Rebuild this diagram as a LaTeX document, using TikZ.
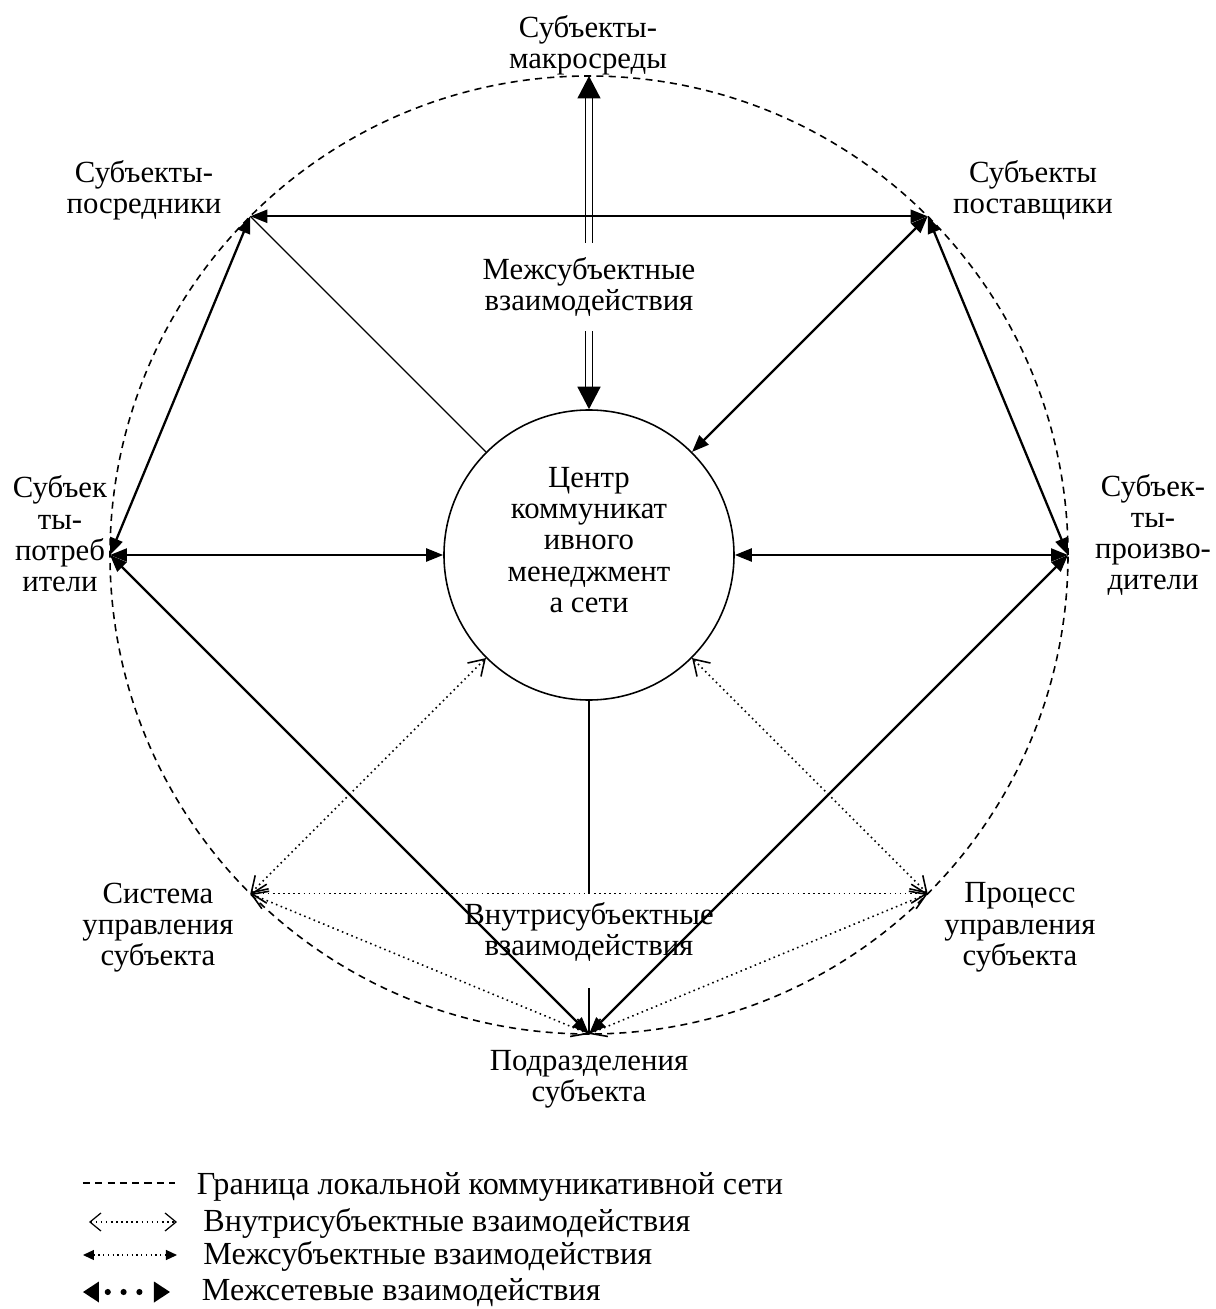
\documentclass[tikz,border=0pt]{standalone}
\usepackage{fontspec}
\setmainfont{Liberation Serif}
\usetikzlibrary{arrows.meta, positioning}
\tikzstyle{hub} = [circle, draw=black, line width=0.9pt, minimum size=5.8cm, inner sep=0pt]
\tikzstyle{lbl} = [align=center, inner sep=1pt]
\tikzstyle{link} = [line width=1.3pt, {Triangle[length=0.34cm,width=0.26cm]}-{Triangle[length=0.34cm,width=0.26cm]}]
\tikzstyle{tie} = [line width=0.8pt]
\tikzstyle{intra} = [line width=0.9pt, dotted, {Straight Barb[length=0.3cm,width=0.38cm]}-{Straight Barb[length=0.3cm,width=0.38cm]}]
\tikzstyle{netlink} = [double, double distance=3pt, line width=0.9pt, {Triangle[length=0.45cm,width=0.46cm]}-{Triangle[length=0.45cm,width=0.46cm]}]
\tikzstyle{border} = [line width=0.9pt, dash pattern=on 4pt off 3pt]
\tikzstyle{keytxt} = [anchor=west, inner sep=0pt, font=\fontsize{18.3}{19}\selectfont]

\begin{document}
\begin{tikzpicture}[font=\fontsize{17.5}{17.8}\selectfont]
    \useasboundingbox (-11.78,11.1) rectangle (12.52,-15.08);

    % boundary of the network
    \draw [border] (0,0) circle (9.58);

    \node (hubc) [hub] {};
    \node (hubtxt) [lbl] at (0,0.3) {Центр\\коммуникат\\ивного\\менеджмент\\а сети};

    \coordinate (macro) at (90:9.58);
    \coordinate (posr) at (135:9.58);
    \coordinate (post) at (45:9.58);
    \coordinate (potr) at (180:9.58);
    \coordinate (proizv) at (0:9.58);
    \coordinate (sys) at (225:9.58);
    \coordinate (proc) at (315:9.58);
    \coordinate (podr) at (270:9.58);
    \coordinate (vlow) at (0,-8.66);

    \node (macrotxt) [lbl] at (-0.02,10.2) {Субъекты-\\макросреды};
    \node (posrtxt) [lbl] at (-8.9,7.3) {Субъекты-\\посредники};
    \node (posttxt) [lbl] at (8.88,7.3) {Субъекты\\поставщики};
    \node (potrtxt) [lbl] at (-10.58,0.42) {Субъек\\ты-\\потреб\\ители};
    \node (proizvtxt) [lbl] at (11.28,0.4) {Субъек-\\ты-\\произво-\\дители};
    \node (systxt) [lbl] at (-8.62,-7.45) {Система\\управления\\субъекта};
    \node (proctxt) [lbl] at (8.62,-7.45) {Процесс\\управления\\субъекта};
    \node (podrtxt) [lbl] at (0,-10.48) {Подразделения\\субъекта};

    % inter-subject links
    \draw [netlink] (hubc) -- (macro);
    \node (mezh) [lbl, fill=white, inner ysep=8pt] at (0,5.36) {Межсубъектные\\взаимодействия};
    \draw [link] (posr) -- (post);
    \draw [tie] (posr) -- (hubc);
    \draw [link] (posr) -- (potr);
    \draw [link] (potr) -- (hubc);
    \draw [link] (potr) -- (podr);
    \draw [link] (proizv) -- (hubc);
    \draw [link] (post) -- (proizv);
    \draw [link] (post) -- (hubc);
    \draw [link] (proizv) -- (podr);

    % intra-subject links
    \draw [tie] (hubc) -- (hubc |- sys);
    \draw [tie] (vlow) -- (podr);
    \node (vnutri) [lbl] at (0,-7.54) {Внутрисубъектные\\взаимодействия};
    \draw [intra] (sys) -- (hubc);
    \draw [intra] (proc) -- (hubc);
    \draw [intra] (sys) -- (proc);
    \draw [intra] (sys) -- (podr);
    \draw [intra] (proc) -- (podr);

    % legend
    \coordinate (ka1) at (-10.12,-12.56);
    \coordinate (kb1) at (-8.28,-12.56);
    \coordinate (ka2) at (-10.0,-13.34);
    \coordinate (kb2) at (-8.24,-13.34);
    \coordinate (ka3) at (-10.12,-14.0);
    \coordinate (kb3) at (-8.24,-14.0);
    \coordinate (ka4) at (-10.12,-14.74);
    \coordinate (kb4) at (-8.38,-14.74);
    \draw [border] (ka1) -- (kb1);
    \draw [intra, line width=0.7pt, {Straight Barb[length=0.22cm,width=0.36cm]}-{Straight Barb[length=0.22cm,width=0.36cm]}] (ka2) -- (kb2);
    \draw [line width=0.7pt, dotted, {Triangle[length=0.22cm,width=0.2cm]}-{Triangle[length=0.22cm,width=0.2cm]}] (ka3) -- (kb3);
    \draw [line width=3.5pt, line cap=round, dash pattern=on 0pt off 9pt, dash phase=4pt, {Triangle[length=0.32cm,width=0.42cm,line width=0pt]}-{Triangle[length=0.32cm,width=0.42cm,line width=0pt]}] (ka4) -- (kb4);
    \node (key1) [keytxt] at (-7.85,-12.64) {Граница локальной коммуникативной сети};
    \node (key2) [keytxt] at (-7.72,-13.36) {Внутрисубъектные взаимодействия};
    \node (key3) [keytxt] at (-7.72,-14.02) {Межсубъектные взаимодействия};
    \node (key4) [keytxt] at (-7.75,-14.76) {Межсетевые взаимодействия};
\end{tikzpicture}
\end{document}
